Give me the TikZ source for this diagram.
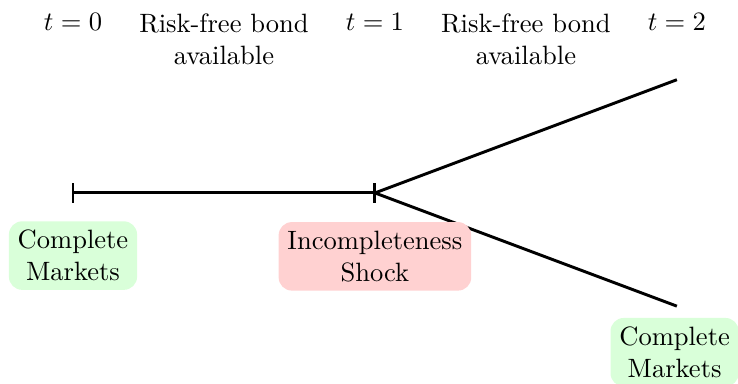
\documentclass[tikz,border=0pt]{standalone}
\usepackage{amsmath}
\usetikzlibrary{positioning}

\tikzset{
  market/.style={rounded corners=5pt, align=center},
  tlabel/.style={anchor=north, align=center},
  branch/.style={line width=1.1pt},
}

\begin{document}
\begin{tikzpicture}
  \useasboundingbox (-0.967,-2.53) rectangle (8.81,2.556);

  \newcommand\Tw{4}
  \newcommand\Ht{1.5}

  % dates
  \coordinate (d0) at (0,0);
  \coordinate (d1) at (\Tw,0);
  \coordinate (up) at (2*\Tw,\Ht);
  \coordinate (dn) at (2*\Tw,-\Ht);

  \draw[branch] (d0) -- (d1);
  \draw[branch] (d1) -- (up);
  \draw[branch] (d1) -- (dn);
  \draw[branch] ([yshift=-0.13cm]d0) -- ([yshift=0.13cm]d0);
  \draw[branch] ([yshift=-0.13cm]d1) -- ([yshift=0.13cm]d1);

  % labels on top
  \node[tlabel] (t0) at (0,2.5) {$t=0$};
  \node[tlabel] (t1) at (\Tw,2.5) {$t=1$};
  \node[tlabel] (t2) at (2*\Tw,2.5) {$t=2$};
  \node[tlabel] (rf1) at (0.5*\Tw,2.5) {Risk-free bond\\available};
  \node[tlabel] (rf2) at (1.5*\Tw,2.5) {Risk-free bond\\available};

  % market states
  \node[market, fill=green!15] (cm0) at (0,-0.83) {Complete\\Markets};
  \node[market, fill=red!18] (shock) at (\Tw,-0.84) {Incompleteness\\Shock};
  \node[market, fill=green!15] (cm2) at (2*\Tw-0.03,-2.11) {Complete\\Markets};

\end{tikzpicture}
\end{document}
